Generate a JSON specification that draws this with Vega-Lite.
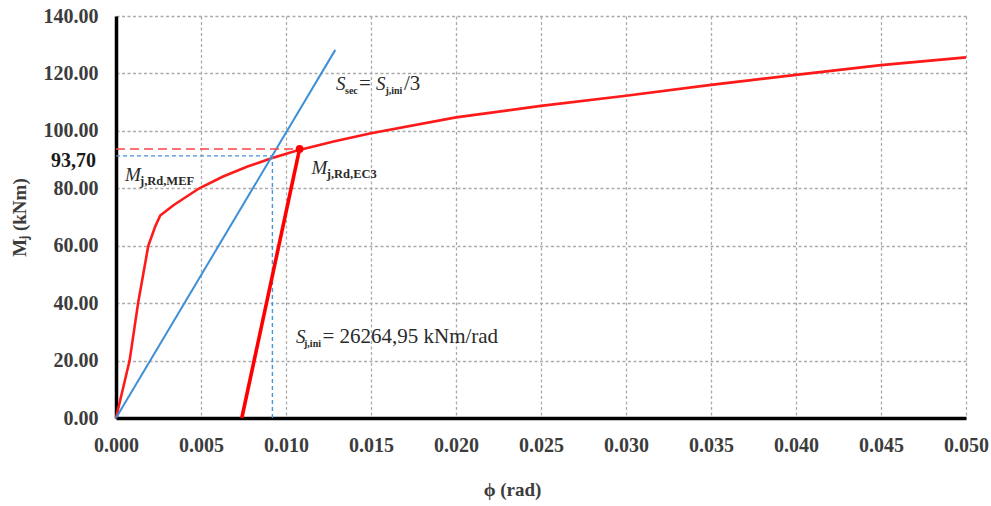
{
  "$schema": "https://vega.github.io/schema/vega-lite/v6.json",
  "width": 850,
  "height": 402,
  "autosize": {"type": "none"},
  "padding": {"left": 116, "top": 16, "right": 25, "bottom": 88},
  "background": "white",
  "config": {
    "view": {"stroke": null},
    "axis": {
      "labelFont": "Liberation Serif",
      "labelFontWeight": "bold",
      "labelFontSize": 20,
      "labelColor": "#3c3c3c",
      "labelFlush": false,
      "titleFont": "Liberation Serif",
      "titleFontWeight": "bold",
      "titleFontSize": 19,
      "titleColor": "#3c3c3c",
      "ticks": false,
      "domainColor": "#000000",
      "domainWidth": 3.5,
      "gridColor": "#ababab",
      "gridDash": [3, 2.5],
      "gridWidth": 1.3
    }
  },
  "datasets": {
    "mef": [
      {"phi": 0, "M": 0},
      {"phi": 0.0008, "M": 20},
      {"phi": 0.0013, "M": 40},
      {"phi": 0.0019, "M": 60},
      {"phi": 0.0023, "M": 66.6},
      {"phi": 0.0026, "M": 70.5},
      {"phi": 0.0034, "M": 74.2},
      {"phi": 0.0049, "M": 80.0},
      {"phi": 0.0063, "M": 84.1},
      {"phi": 0.0077, "M": 87.5},
      {"phi": 0.0091, "M": 90.4},
      {"phi": 0.0106, "M": 93.1},
      {"phi": 0.0128, "M": 96.3},
      {"phi": 0.015, "M": 99.2},
      {"phi": 0.02, "M": 104.7},
      {"phi": 0.025, "M": 108.7},
      {"phi": 0.03, "M": 112.2},
      {"phi": 0.035, "M": 116.0},
      {"phi": 0.04, "M": 119.5},
      {"phi": 0.045, "M": 122.9},
      {"phi": 0.05, "M": 125.6}
    ],
    "ec3": [
      {"phi": 0.0074, "M": 0},
      {"phi": 0.0108, "M": 93.7}
    ],
    "secant": [
      {"phi": 0, "M": 0},
      {"phi": 0.0129, "M": 128.2}
    ],
    "redref": [
      {"phi": 0, "M": 93.7, "phi2": 0.0108, "M2": 93.7}
    ],
    "blueref": [
      {"phi": 0, "M": 91.3, "phi2": 0.0092, "M2": 91.3},
      {"phi": 0.0092, "M": 0, "phi2": 0.0092, "M2": 91.3}
    ],
    "point": [
      {"phi": 0.0108, "M": 93.7}
    ],
    "labels": [
      {"phi": 0.00053, "M": 82.7, "text": "M", "kind": "var"},
      {"phi": 0.00141, "M": 82.7, "text": "j,Rd,MEF", "kind": "sub"},
      {"phi": 0.0115, "M": 85.0, "text": "M", "kind": "var"},
      {"phi": 0.0124, "M": 85.0, "text": "j,Rd,EC3", "kind": "sub"},
      {"phi": 0.01294, "M": 114.2, "text": "S", "kind": "var"},
      {"phi": 0.01347, "M": 114.2, "text": "sec", "kind": "sub2"},
      {"phi": 0.01429, "M": 114.2, "text": "=", "kind": "plain"},
      {"phi": 0.01529, "M": 114.2, "text": "S", "kind": "var"},
      {"phi": 0.01585, "M": 114.2, "text": "j,ini", "kind": "sub2"},
      {"phi": 0.01694, "M": 114.2, "text": "/3", "kind": "plain"},
      {"phi": 0.01059, "M": 26.1, "text": "S", "kind": "var"},
      {"phi": 0.01106, "M": 26.1, "text": "j,ini", "kind": "sub2"},
      {"phi": 0.01214, "M": 26.1, "text": "= 26264,95 kNm/rad", "kind": "plain"}
    ],
    "ylabel": [
      {"phi": 0, "M": 89.5, "text": "93,70"}
    ]
  },
  "layer": [
    {
      "data": {"name": "mef"},
      "mark": {"type": "line", "color": "#ff1a1a", "strokeWidth": 2.6},
      "encoding": {
        "x": {
          "field": "phi", "type": "quantitative",
          "scale": {"domain": [0, 0.05], "nice": false, "zero": false},
          "axis": {
            "values": [0, 0.005, 0.01, 0.015, 0.02, 0.025, 0.03, 0.035, 0.04, 0.045, 0.05],
            "format": ".3f",
            "labelPadding": 17,
            "title": "ϕ (rad)",
            "titlePadding": 25,
            "titleX": 396
          }
        },
        "y": {
          "field": "M", "type": "quantitative",
          "scale": {"domain": [0, 140], "nice": false},
          "axis": {
            "values": [0, 20, 40, 60, 80, 100, 120, 140],
            "format": ".2f",
            "labelPadding": 18,
            "title": "Mⱼ (kNm)",
            "titlePadding": 14
          }
        }
      }
    },
    {
      "data": {"name": "secant"},
      "mark": {"type": "line", "color": "#3d8fd6", "strokeWidth": 2},
      "encoding": {
        "x": {"field": "phi", "type": "quantitative"},
        "y": {"field": "M", "type": "quantitative"}
      }
    },
    {
      "data": {"name": "redref"},
      "mark": {"type": "rule", "color": "#ff4444", "strokeWidth": 1.6, "strokeDash": [9, 5]},
      "encoding": {
        "x": {"field": "phi", "type": "quantitative"},
        "y": {"field": "M", "type": "quantitative"},
        "x2": {"field": "phi2"},
        "y2": {"field": "M2"}
      }
    },
    {
      "data": {"name": "blueref"},
      "mark": {"type": "rule", "color": "#4a94d8", "strokeWidth": 1.4, "strokeDash": [4, 3]},
      "encoding": {
        "x": {"field": "phi", "type": "quantitative"},
        "y": {"field": "M", "type": "quantitative"},
        "x2": {"field": "phi2"},
        "y2": {"field": "M2"}
      }
    },
    {
      "data": {"name": "ec3"},
      "mark": {"type": "line", "color": "#ff0000", "strokeWidth": 3.6},
      "encoding": {
        "x": {"field": "phi", "type": "quantitative"},
        "y": {"field": "M", "type": "quantitative"}
      }
    },
    {
      "data": {"name": "point"},
      "mark": {"type": "point", "filled": true, "color": "#ff0000", "size": 60, "opacity": 1},
      "encoding": {
        "x": {"field": "phi", "type": "quantitative"},
        "y": {"field": "M", "type": "quantitative"}
      }
    },
    {
      "data": {"name": "labels"},
      "transform": [{"filter": "datum.kind === 'var'"}],
      "mark": {"type": "text", "font": "Liberation Serif", "fontStyle": "italic", "fontSize": 19, "color": "#2a2a2a", "align": "left", "baseline": "alphabetic"},
      "encoding": {
        "x": {"field": "phi", "type": "quantitative"},
        "y": {"field": "M", "type": "quantitative"},
        "text": {"field": "text"}
      }
    },
    {
      "data": {"name": "labels"},
      "transform": [{"filter": "datum.kind === 'sub'"}],
      "mark": {"type": "text", "font": "Liberation Serif", "fontWeight": "bold", "fontSize": 12.5, "color": "#2a2a2a", "align": "left", "baseline": "alphabetic", "dy": 4},
      "encoding": {
        "x": {"field": "phi", "type": "quantitative"},
        "y": {"field": "M", "type": "quantitative"},
        "text": {"field": "text"}
      }
    },
    {
      "data": {"name": "labels"},
      "transform": [{"filter": "datum.kind === 'sub2'"}],
      "mark": {"type": "text", "font": "Liberation Serif", "fontWeight": "bold", "fontSize": 10, "color": "#2a2a2a", "align": "left", "baseline": "alphabetic", "dy": 4},
      "encoding": {
        "x": {"field": "phi", "type": "quantitative"},
        "y": {"field": "M", "type": "quantitative"},
        "text": {"field": "text"}
      }
    },
    {
      "data": {"name": "labels"},
      "transform": [{"filter": "datum.kind === 'plain'"}],
      "mark": {"type": "text", "font": "Liberation Serif", "fontSize": 21, "color": "#2a2a2a", "align": "left", "baseline": "alphabetic"},
      "encoding": {
        "x": {"field": "phi", "type": "quantitative"},
        "y": {"field": "M", "type": "quantitative"},
        "text": {"field": "text"}
      }
    },
    {
      "data": {"name": "ylabel"},
      "mark": {"type": "text", "font": "Liberation Serif", "fontWeight": "bold", "fontSize": 20, "color": "#1a1a1a", "align": "right", "baseline": "middle", "dx": -20},
      "encoding": {
        "x": {"field": "phi", "type": "quantitative"},
        "y": {"field": "M", "type": "quantitative"},
        "text": {"field": "text"}
      }
    }
  ]
}
